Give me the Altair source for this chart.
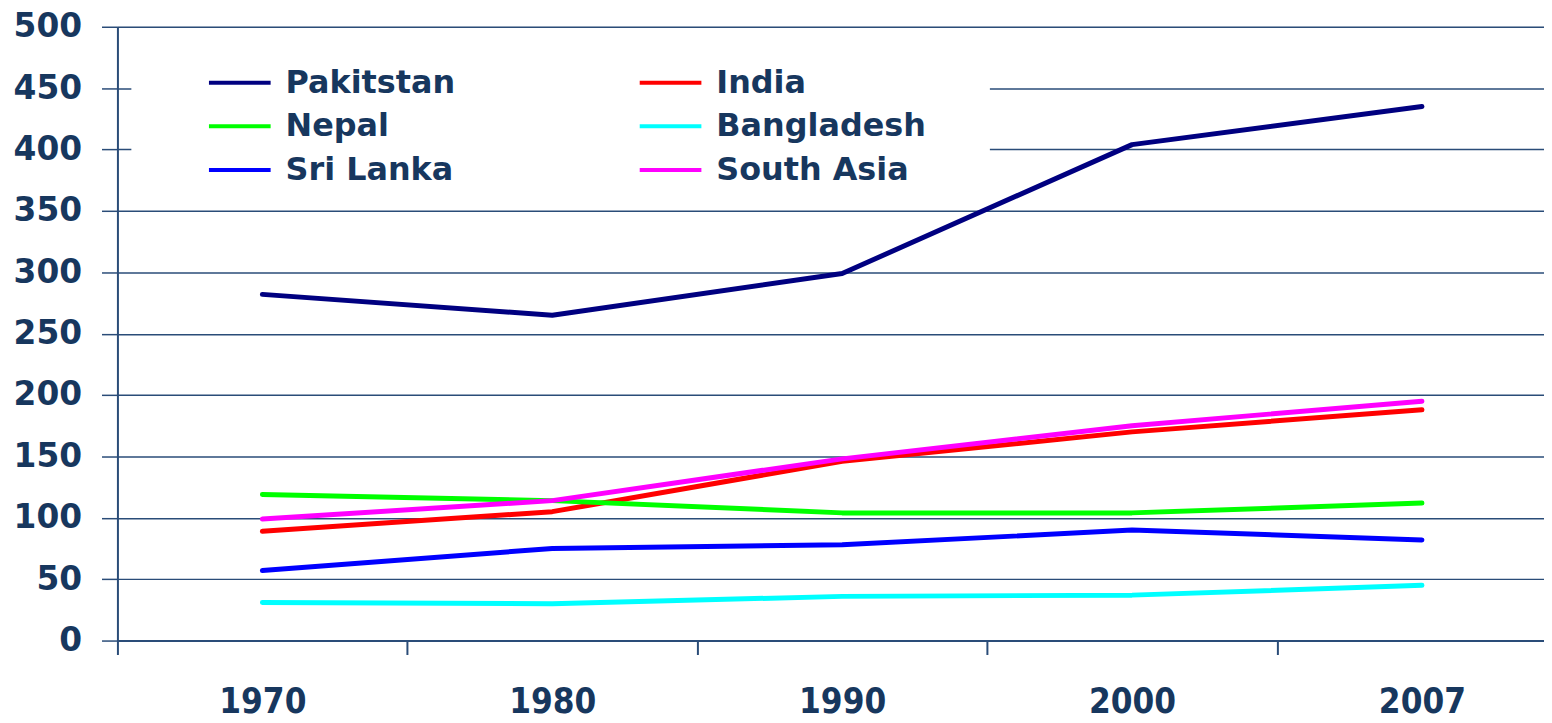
import altair as alt
import pandas as pd

years = ["1970", "1980", "1990", "2000", "2007"]
countries = ["Pakitstan", "India", "Nepal", "Bangladesh", "Sri Lanka", "South Asia"]
colors = ["#000080", "#FF0000", "#00FF00", "#00FFFF", "#0000FF", "#FF00FF"]
legend_order = ["Pakitstan", "Nepal", "Sri Lanka", "India", "Bangladesh", "South Asia"]

pakistan = [282, 265, 299, 404, 435]
india = [89, 105, 146, 170, 188]
nepal = [119, 114, 104, 104, 112]
bangladesh = [31, 30, 36, 37, 45]
sri_lanka = [57, 75, 78, 90, 82]
south_asia = [99, 114, 148, 175, 195]

series = [pakistan, india, nepal, bangladesh, sri_lanka, south_asia]
rows = []
for name, vals in zip(countries, series):
    for yr, v in zip(years, vals):
        rows.append({"year": yr, "country": name, "value": v})
df = pd.DataFrame(rows)

TEXT = "#17375E"
GRID = "#2A4C78"

chart = alt.Chart(df).mark_line(strokeWidth=5, strokeCap="round", strokeJoin="round").encode(
    x=alt.X("year:N", sort=years,
            scale=alt.Scale(type="band", paddingInner=0, paddingOuter=0),
            axis=alt.Axis(title=None, tickBand="extent", tickSize=14,
                          labelPadding=30, grid=False, labelAngle=0,
                          labelFont="DejaVu Sans Condensed", labelFontSize=35,
                          labelFontWeight="bold", labelColor=TEXT,
                          domainColor=GRID, tickColor=GRID, domainWidth=2, tickWidth=2)),
    y=alt.Y("value:Q", scale=alt.Scale(domain=[0, 500], nice=False),
            axis=alt.Axis(title=None, values=list(range(0, 501, 50)), tickSize=16,
                          labelPadding=20, grid=True, gridColor=GRID, gridWidth=1.5,
                          labelFont="DejaVu Sans", labelFontSize=33, labelFontWeight="bold",
                          labelColor=TEXT, domainColor=GRID, tickColor=GRID,
                          domainWidth=2, tickWidth=1.5)),
    color=alt.Color("country:N", sort=countries,
                    scale=alt.Scale(domain=countries, range=colors),
                    legend=alt.Legend(orient="none", legendX=14, legendY=28.5, columns=2,
                                      values=legend_order,
                                      symbolType="stroke", symbolSize=3844, symbolStrokeWidth=4,
                                      symbolOffset=64, labelOffset=13, clipHeight=31,
                                      labelFont="DejaVu Sans", labelFontSize=32,
                                      labelFontWeight="bold", labelColor=TEXT, labelLimit=500,
                                      fillColor="white", padding=12, rowPadding=11,
                                      columnPadding=119, title=" ", titleOrient="right",
                                      titleFontSize=1, titlePadding=52)),
).properties(
    width=1457, height=617,
    autosize=alt.AutoSizeParams(type="none"),
    padding={"left": 110, "top": 17, "right": -23, "bottom": 78},
).configure_view(stroke=None).configure(background="white")

chart.save("out.html", embed_options={"renderer": "svg", "actions": False})
